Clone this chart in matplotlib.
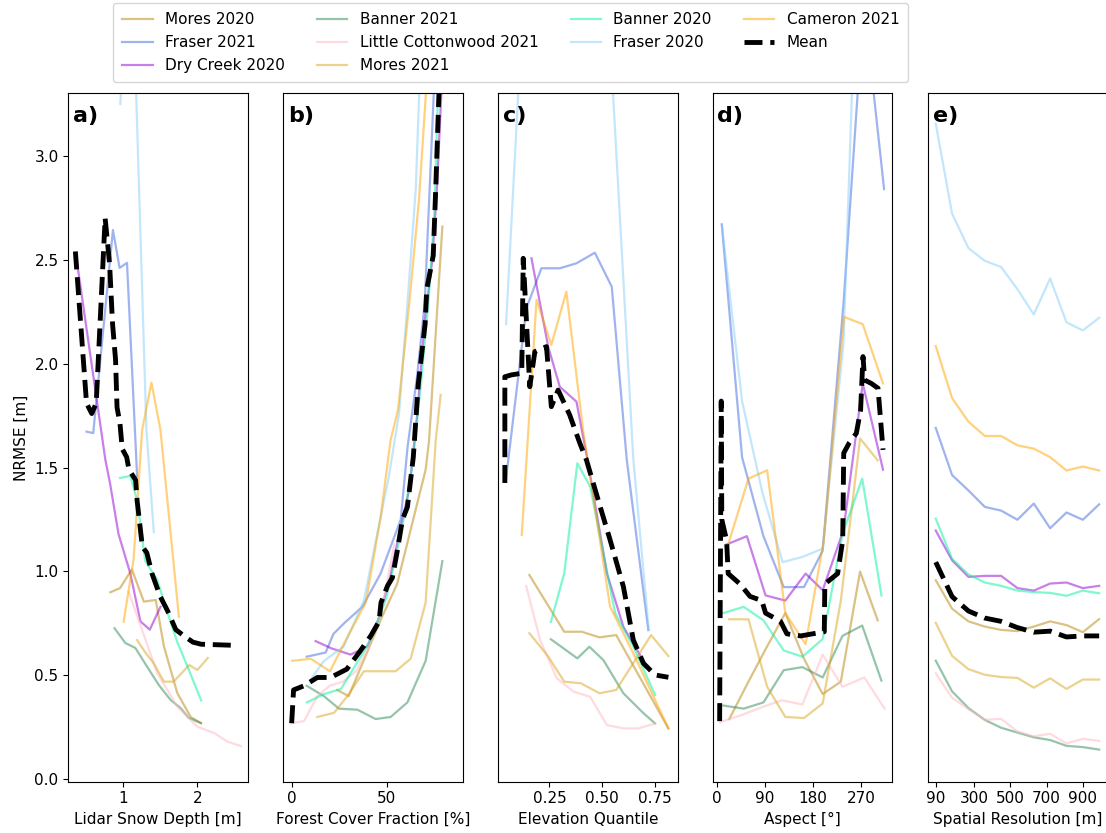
import matplotlib
matplotlib.use("Agg")
import matplotlib.pyplot as plt

# ---------------- series names / styles ----------------
series_names = ["Mores 2020", "Fraser 2021", "Dry Creek 2020", "Banner 2021",
                "Little Cottonwood 2021", "Mores 2021", "Banner 2020", "Fraser 2020",
                "Cameron 2021"]
series_colors = ["#b8860b", "#4169e1", "#9400d3", "#2e8b57",
                 "#ffb6c1", "#daa520", "#00f0a0", "#87cefa", "#ffa500"]

# ---------------- panel a: Lidar Snow Depth [m] ----------------
a_mores20_x = [0.83, 0.96, 1.12, 1.28, 1.44, 1.55, 1.73, 1.91, 2.05]
a_mores20_y = [0.90, 0.92, 1.01, 0.855, 0.863, 0.64, 0.415, 0.30, 0.27]
a_fraser21_x = [0.51, 0.60, 0.865, 0.954, 1.054, 1.19]
a_fraser21_y = [1.673, 1.666, 2.643, 2.461, 2.485, 1.456]
a_dry20_x = [0.365, 0.762, 0.828, 0.94, 1.099, 1.234, 1.36, 1.504]
a_dry20_y = [2.53, 1.54, 1.42, 1.18, 0.99, 0.76, 0.72, 0.83]
a_banner21_x = [0.886, 1.031, 1.166, 1.324, 1.481, 1.639, 1.774, 1.886, 2.045]
a_banner21_y = [0.727, 0.656, 0.632, 0.542, 0.454, 0.382, 0.343, 0.295, 0.271]
a_lcc21_x = [1.076, 1.459, 1.73, 2.0, 2.224, 2.405, 2.585]
a_lcc21_y = [0.903, 0.512, 0.349, 0.253, 0.223, 0.181, 0.16]
a_mores21_x = [1.19, 1.30, 1.41, 1.55, 1.68, 1.89, 2.0, 2.14]
a_mores21_y = [0.67, 0.61, 0.56, 0.47, 0.47, 0.55, 0.526, 0.584]
a_banner20_x = [0.96, 1.10, 1.19, 1.30, 1.46, 1.60, 1.73, 1.87, 2.05]
a_banner20_y = [1.45, 1.46, 1.34, 1.05, 0.96, 0.80, 0.66, 0.54, 0.38]
a_fraser20_x = [0.964, 1.10, 1.315, 1.414]
a_fraser20_y = [3.25, 4.2, 1.68, 1.19]
a_cameron21_x = [1.008, 1.143, 1.257, 1.382, 1.504, 1.751]
a_cameron21_y = [0.758, 1.06, 1.68, 1.909, 1.68, 0.782]
a_mean_x = [0.36, 0.51, 0.58, 0.64, 0.76, 0.82, 0.86, 0.90, 0.92, 0.96, 0.99, 1.05, 1.08,
            1.17, 1.19, 1.26, 1.32, 1.39, 1.50, 1.60, 1.71, 1.82, 1.94, 2.05, 2.47]
a_mean_y = [2.54, 1.81, 1.76, 1.81, 2.70, 2.48, 2.19, 2.02, 1.79, 1.71, 1.59, 1.55, 1.49,
            1.44, 1.34, 1.12, 1.09, 0.99, 0.88, 0.81, 0.72, 0.69, 0.66, 0.65, 0.645]

# ---------------- panel b: Forest Cover Fraction [%] ----------------
b_mores20_x = [24, 30, 47, 55.5, 70.5, 72.3, 79.3]
b_mores20_y = [0.43, 0.40, 0.77, 0.94, 1.49, 1.63, 2.66]
b_fraser21_x = [7.9, 17.9, 22, 27.5, 37.2, 46.8, 57.4, 61, 66, 70, 75]
b_fraser21_y = [0.59, 0.61, 0.70, 0.75, 0.83, 0.99, 1.25, 1.6, 1.94, 2.29, 3.35]
b_dry20_x = [12.6, 21, 31, 40, 46, 52, 57, 62, 66, 70, 74, 76.5, 79]
b_dry20_y = [0.665, 0.63, 0.60, 0.64, 0.78, 0.98, 1.2, 1.40, 1.75, 2.2, 2.5, 2.85, 3.35]
b_banner21_x = [7.9, 17, 24.9, 34.6, 44.2, 52.1, 60.9, 70.5, 79.3]
b_banner21_y = [0.45, 0.40, 0.34, 0.335, 0.29, 0.30, 0.37, 0.57, 1.05]
b_lcc21_x = [0, 6.5, 13.5, 20, 27, 34, 40, 47, 54]
b_lcc21_y = [0.27, 0.28, 0.40, 0.45, 0.47, 0.52, 0.63, 0.80, 1.13]
b_mores21_x = [13.5, 22.3, 29.3, 38, 54.7, 62.6, 70.5, 75.8, 78.4]
b_mores21_y = [0.30, 0.32, 0.40, 0.52, 0.52, 0.58, 0.85, 1.63, 1.85]
b_banner20_x = [8, 17, 26, 31, 37, 43, 50, 55, 60, 64, 68, 72, 75, 77]
b_banner20_y = [0.37, 0.41, 0.435, 0.51, 0.60, 0.70, 0.88, 1.08, 1.30, 1.55, 1.90, 2.30, 2.70, 3.30]
b_fraser20_x = [10, 17, 27.5, 38, 45, 51, 56.5, 61, 65.3, 67.5]
b_fraser20_y = [0.48, 0.57, 0.64, 0.86, 1.18, 1.45, 1.76, 2.3, 2.84, 3.4]
b_cameron21_x = [0.3, 10, 20.2, 29.3, 39, 46.8, 52, 56, 62, 67, 71]
b_cameron21_y = [0.57, 0.58, 0.52, 0.685, 0.85, 1.26, 1.63, 1.78, 2.3, 2.79, 3.35]
b_mean_x = [0, 1, 6.5, 13.5, 20.5, 29, 35.5, 41.6, 46, 47, 50.4, 53, 55.6, 58.3, 60.9,
            64, 66.6, 70.2, 71.1, 74.5, 75.8, 77.5, 78.5]
b_mean_y = [0.27, 0.43, 0.45, 0.49, 0.49, 0.53, 0.61, 0.69, 0.76, 0.85, 0.93, 0.97, 1.10,
            1.25, 1.31, 1.55, 1.90, 2.19, 2.36, 2.52, 2.84, 3.3, 3.6]

# ---------------- panel c: Elevation Quantile ----------------
c_mores20_x = [0.155, 0.32, 0.403, 0.487, 0.566, 0.813]
c_mores20_y = [0.983, 0.71, 0.71, 0.683, 0.694, 0.245]
c_fraser21_x = [0.045, 0.141, 0.212, 0.299, 0.378, 0.465, 0.545, 0.616, 0.718]
c_fraser21_y = [1.45, 2.267, 2.459, 2.459, 2.483, 2.534, 2.37, 1.537, 0.718]
c_dry20_x = [0.165, 0.244, 0.299, 0.378, 0.433, 0.522, 0.60, 0.711]
c_dry20_y = [2.507, 2.082, 1.889, 1.817, 1.521, 0.991, 0.734, 0.542]
c_banner21_x = [0.257, 0.382, 0.439, 0.505, 0.60, 0.695, 0.75]
c_banner21_y = [0.674, 0.582, 0.638, 0.574, 0.414, 0.318, 0.269]
c_lcc21_x = [0.14, 0.206, 0.285, 0.364, 0.443, 0.522, 0.60, 0.671, 0.75]
c_lcc21_y = [0.93, 0.67, 0.486, 0.422, 0.397, 0.261, 0.245, 0.245, 0.269]
c_mores21_x = [0.155, 0.245, 0.32, 0.399, 0.487, 0.566, 0.731, 0.813]
c_mores21_y = [0.703, 0.59, 0.47, 0.462, 0.414, 0.43, 0.694, 0.593]
c_banner20_x = [0.257, 0.32, 0.382, 0.443, 0.561, 0.647, 0.75]
c_banner20_y = [0.758, 0.991, 1.521, 1.408, 0.799, 0.638, 0.406]
c_fraser20_x = [0.045, 0.11, 0.25, 0.40, 0.54, 0.647, 0.72]
c_fraser20_y = [2.19, 3.45, 4.0, 4.0, 3.5, 1.54, 0.72]
c_cameron21_x = [0.119, 0.189, 0.259, 0.33, 0.409, 0.537, 0.647, 0.813]
c_cameron21_y = [1.176, 2.307, 2.09, 2.347, 1.681, 0.831, 0.606, 0.245]
c_mean_x = [0.039, 0.039, 0.070, 0.119, 0.126, 0.157, 0.181, 0.236, 0.259, 0.291, 0.346,
            0.394, 0.425, 0.49, 0.537, 0.60, 0.647, 0.695, 0.75, 0.813]
c_mean_y = [1.426, 1.937, 1.946, 1.954, 2.507, 1.889, 2.058, 2.082, 1.793, 1.873, 1.753,
            1.617, 1.537, 1.312, 1.152, 0.927, 0.67, 0.558, 0.502, 0.491]

# ---------------- panel d: Aspect [deg] ----------------
d_mores20_x = [23, 59, 94, 128, 163, 198, 232, 268, 301]
d_mores20_y = [0.29, 0.47, 0.64, 0.80, 0.58, 0.41, 0.47, 1.0, 0.765]
d_fraser21_x = [9, 47, 87, 125, 163, 198, 237, 275, 313]
d_fraser21_y = [2.67, 1.55, 1.17, 0.925, 0.925, 1.10, 2.29, 3.74, 2.84]
d_dry20_x = [18, 56, 91, 128, 166, 198, 237, 273, 311]
d_dry20_y = [1.13, 1.17, 0.885, 0.86, 0.99, 0.91, 1.2, 1.905, 1.49]
d_banner21_x = [12, 50, 87, 125, 160, 198, 235, 272, 308]
d_banner21_y = [0.355, 0.34, 0.37, 0.525, 0.54, 0.49, 0.69, 0.74, 0.475]
d_lcc21_x = [6, 47, 87, 122, 160, 198, 235, 276, 314]
d_lcc21_y = [0.275, 0.31, 0.35, 0.38, 0.36, 0.60, 0.445, 0.49, 0.34]
d_mores21_x = [23, 59, 94, 128, 163, 198, 232, 268, 301]
d_mores21_y = [0.77, 0.77, 0.445, 0.30, 0.295, 0.365, 0.86, 1.64, 1.535]
d_banner20_x = [12, 50, 87, 125, 160, 198, 235, 272, 308]
d_banner20_y = [0.80, 0.83, 0.765, 0.62, 0.59, 0.675, 1.18, 1.447, 0.885]
d_fraser20_x = [9, 47, 85, 123, 160, 198, 237, 275, 313]
d_fraser20_y = [2.67, 1.82, 1.38, 1.045, 1.07, 1.11, 2.1, 5.0, 4.5]
d_cameron21_x = [21, 59, 94, 128, 166, 200, 238, 273, 311]
d_cameron21_y = [1.13, 1.447, 1.487, 0.80, 0.65, 1.15, 2.225, 2.19, 1.905]
d_mean_x = [5, 8, 9, 18, 21, 43, 62, 84, 91, 119, 131, 157, 201, 202, 226, 235.5, 237.4,
            248, 261, 269, 273.5, 276.6, 289, 301.6, 311]
d_mean_y = [0.28, 1.82, 1.25, 1.15, 0.99, 0.94, 0.88, 0.86, 0.80, 0.76, 0.70, 0.69, 0.71,
            0.94, 0.99, 1.15, 1.57, 1.62, 1.665, 1.777, 2.034, 1.921, 1.905, 1.882, 1.585]

# ---------------- panel e: Spatial Resolution [m] ----------------
e_res = [90, 180, 270, 360, 450, 540, 630, 720, 810, 900, 990]
e_mores20_y = [0.958, 0.821, 0.76, 0.735, 0.719, 0.713, 0.735, 0.76, 0.742, 0.708, 0.771]
e_fraser21_y = [1.691, 1.464, 1.39, 1.311, 1.293, 1.249, 1.327, 1.208, 1.284, 1.249, 1.323]
e_dry20_y = [1.197, 1.054, 0.974, 0.979, 0.979, 0.92, 0.908, 0.942, 0.947, 0.92, 0.931]
e_banner21_y = [0.571, 0.423, 0.343, 0.286, 0.248, 0.225, 0.202, 0.189, 0.161, 0.155, 0.143]
e_lcc21_y = [0.51, 0.393, 0.337, 0.286, 0.291, 0.23, 0.207, 0.219, 0.173, 0.195, 0.185]
e_mores21_y = [0.753, 0.594, 0.53, 0.503, 0.492, 0.488, 0.441, 0.486, 0.435, 0.48, 0.48]
e_banner20_y = [1.254, 1.061, 0.986, 0.947, 0.931, 0.908, 0.901, 0.897, 0.883, 0.908, 0.895]
e_fraser20_y = [3.155, 2.722, 2.556, 2.495, 2.465, 2.358, 2.237, 2.41, 2.199, 2.16, 2.221]
e_cameron21_y = [2.085, 1.834, 1.721, 1.652, 1.652, 1.607, 1.591, 1.55, 1.486, 1.505, 1.486]
e_mean_y = [1.045, 0.879, 0.81, 0.776, 0.76, 0.73, 0.708, 0.713, 0.685, 0.69, 0.69]

panels = [
    dict(label="a)", xlabel="Lidar Snow Depth [m]", xlim=(0.265, 2.676), xticks=[1, 2],
         xticklabels=None,
         series=[(a_mores20_x, a_mores20_y), (a_fraser21_x, a_fraser21_y), (a_dry20_x, a_dry20_y),
                 (a_banner21_x, a_banner21_y), (a_lcc21_x, a_lcc21_y), (a_mores21_x, a_mores21_y),
                 (a_banner20_x, a_banner20_y), (a_fraser20_x, a_fraser20_y),
                 (a_cameron21_x, a_cameron21_y)],
         mean=(a_mean_x, a_mean_y)),
    dict(label="b)", xlabel="Forest Cover Fraction [%]", xlim=(-4.4, 90), xticks=[0, 50],
         xticklabels=None,
         series=[(b_mores20_x, b_mores20_y), (b_fraser21_x, b_fraser21_y), (b_dry20_x, b_dry20_y),
                 (b_banner21_x, b_banner21_y), (b_lcc21_x, b_lcc21_y), (b_mores21_x, b_mores21_y),
                 (b_banner20_x, b_banner20_y), (b_fraser20_x, b_fraser20_y),
                 (b_cameron21_x, b_cameron21_y)],
         mean=(b_mean_x, b_mean_y)),
    dict(label="c)", xlabel="Elevation Quantile", xlim=(0.008, 0.857), xticks=[0.25, 0.5, 0.75],
         xticklabels=["0.25", "0.50", "0.75"],
         series=[(c_mores20_x, c_mores20_y), (c_fraser21_x, c_fraser21_y), (c_dry20_x, c_dry20_y),
                 (c_banner21_x, c_banner21_y), (c_lcc21_x, c_lcc21_y), (c_mores21_x, c_mores21_y),
                 (c_banner20_x, c_banner20_y), (c_fraser20_x, c_fraser20_y),
                 (c_cameron21_x, c_cameron21_y)],
         mean=(c_mean_x, c_mean_y)),
    dict(label="d)", xlabel="Aspect [°]", xlim=(-8, 328), xticks=[0, 90, 180, 270],
         xticklabels=None,
         series=[(d_mores20_x, d_mores20_y), (d_fraser21_x, d_fraser21_y), (d_dry20_x, d_dry20_y),
                 (d_banner21_x, d_banner21_y), (d_lcc21_x, d_lcc21_y), (d_mores21_x, d_mores21_y),
                 (d_banner20_x, d_banner20_y), (d_fraser20_x, d_fraser20_y),
                 (d_cameron21_x, d_cameron21_y)],
         mean=(d_mean_x, d_mean_y)),
    dict(label="e)", xlabel="Spatial Resolution [m]", xlim=(49, 1037), xticks=[90, 300, 500, 700, 900],
         xticklabels=None,
         series=[(e_res, e_mores20_y), (e_res, e_fraser21_y), (e_res, e_dry20_y),
                 (e_res, e_banner21_y), (e_res, e_lcc21_y), (e_res, e_mores21_y),
                 (e_res, e_banner20_y), (e_res, e_fraser20_y), (e_res, e_cameron21_y)],
         mean=(e_res, e_mean_y)),
]

plt.rcParams["font.size"] = 11
W, H = 1106, 833
fig = plt.figure(figsize=(W / 100, H / 100), dpi=100)

lefts_px = [68.3, 283.3, 498.3, 712.7, 928.3]
width_px = 179.4
bottom_px = 833 - 781.7
height_px = 781.7 - 93.3

handles = []
for i, p in enumerate(panels):
    ax = fig.add_axes([lefts_px[i] / W, bottom_px / H, width_px / W, height_px / H])
    for (xs, ys), name, col in zip(p["series"], series_names, series_colors):
        ln, = ax.plot(xs, ys, color=col, alpha=0.5, lw=1.6, label=name)
        if i == 0:
            handles.append(ln)
    mx, my = p["mean"]
    mln, = ax.plot(mx, my, color="black", lw=3.5, ls="--", label="Mean")
    if i == 0:
        handles.append(mln)
    ax.set_ylim(-0.0115, 3.301)
    ax.set_xlim(*p["xlim"])
    ax.set_xticks(p["xticks"])
    if p["xticklabels"] is not None:
        ax.set_xticklabels(p["xticklabels"])
    ax.set_xlabel(p["xlabel"], fontsize=11)
    ax.tick_params(labelsize=11)
    if i == 0:
        ax.set_yticks([0.0, 0.5, 1.0, 1.5, 2.0, 2.5, 3.0])
        ax.set_yticklabels(["0.0", "0.5", "1.0", "1.5", "2.0", "2.5", "3.0"])
        ax.set_ylabel("NRMSE [m]", fontsize=11)
    else:
        ax.set_yticks([])
    ax.text(0.025, 0.982, p["label"], transform=ax.transAxes, fontsize=16,
            fontweight="bold", va="top", ha="left")

fig.legend(handles=handles, loc="upper left", bbox_to_anchor=(113 / W, 1 - 3 / H),
           borderaxespad=0.0, borderpad=0.6, columnspacing=2.1, labelspacing=0.52,
           ncol=4, fontsize=11, frameon=True)

fig.savefig("out.png", dpi=100)
